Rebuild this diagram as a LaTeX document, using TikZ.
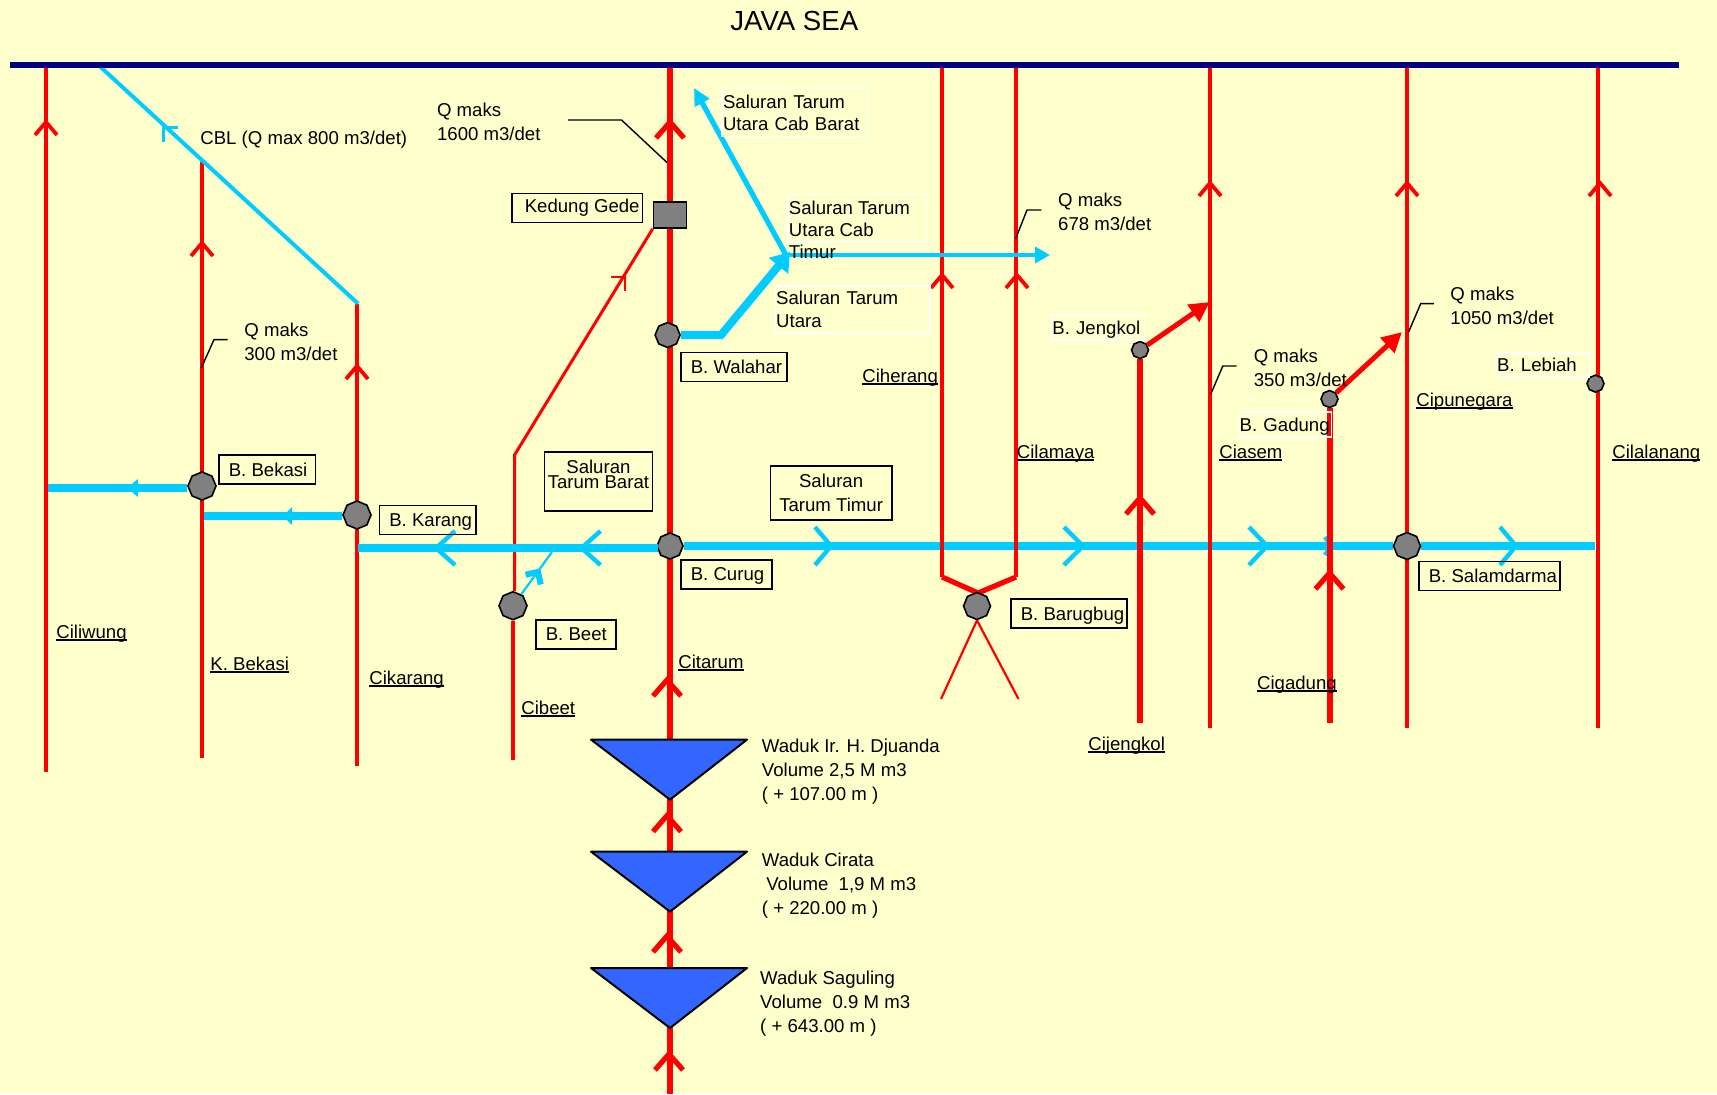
\documentclass[tikz,border=0pt]{standalone}
\usepackage{fontspec}
\setmainfont{Liberation Sans}
\usepackage{tikz}
\usetikzlibrary{backgrounds}
\usetikzlibrary{positioning, calc, arrows.meta, shapes.geometric}
\definecolor{mapback}{HTML}{FFFFCC}
\definecolor{seablue}{HTML}{000080}
\definecolor{riverred}{HTML}{FF0000}
\definecolor{canalblue}{HTML}{00CCFF}
\definecolor{damblue}{HTML}{3366FF}
\definecolor{weirgray}{HTML}{808080}
\newcommand{\rivername}[1]{\setbox0\hbox{#1}\rlap{\rule[-1.2pt]{\wd0}{0.9pt}}#1}
\tikzset{pics/chevron/.style 2 args={code={\path[pic actions] (-#1,-#2) -- (0,0) -- (-#1,#2);}}}
\tikzset{river/.style={draw=riverred, line width=2.2pt}}
\tikzset{canal/.style={draw=canalblue, line width=4pt}}
\tikzset{rivermark/.style={draw=riverred, line width=1.9pt, rotate=90}}
\tikzset{bigmark/.style={draw=riverred, line width=2.6pt, rotate=90}}
\tikzset{canalmark/.style={draw=canalblue, line width=2.2pt}}
\tikzset{weir/.style={regular polygon, regular polygon sides=8, shape border rotate=22.5, draw=black, fill=weirgray, line width=0.8pt, inner sep=0pt, minimum size=#1}}
\tikzset{weir/.default=14pt}
\tikzset{reservoir/.style={draw=black, fill=damblue, line width=1pt, line join=round}}
\tikzset{leader/.style={draw=black, line width=0.7pt}}
\tikzset{plain/.style={anchor=west, inner sep=0pt, align=left}}
\tikzset{oneline/.style={anchor=west, inner sep=0pt, text height=6.7pt, text depth=0pt}}
\tikzset{boxlabel/.style={draw=black, line width=0.8pt, anchor=west, inner xsep=1.5pt, inner ysep=0pt, minimum height=14.5pt, text height=6.7pt, text depth=0pt, execute at begin node={\hspace*{3.5pt}}, execute at end node={\hspace*{#1}}}}
\tikzset{boxlabel/.default=0pt}
\tikzset{whitelabel/.style={draw=white, line width=0.7pt, anchor=west, inner xsep=0.5pt, inner ysep=0pt, align=left, text width=#1}}
\tikzset{whiteline/.style={whitelabel=45.5pt, minimum height=12.5pt, text height=6.7pt, text depth=0pt}}

\begin{document}
\begin{tikzpicture}[x=0.5pt, y=-0.5pt, every node/.style={font=\fontsize{9.3}{12}\selectfont}]

      \useasboundingbox (0,0) rectangle (1717,1094);
      \begin{scope}[on background layer]
        \fill[mapback] (0,0) rectangle (1717,1094);
      \end{scope}

      % WEIRS

      \node[weir] (wBekasi) at (202,486) {};
      \node[weir] (wKarang) at (357,515) {};
      \node[weir=13pt] (wCurug) at (670,546) {};
      \node[weir=12.5pt] (wWalahar) at (667.6,335) {};
      \node[weir] (wBeet) at (513,605.7) {};
      \node[weir=13.5pt] (wBarugbug) at (977,606) {};
      \node[weir=8.5pt] (wJengkol) at (1140,350) {};
      \node[weir=8.5pt] (wGadung) at (1329.5,399) {};
      \node[weir=13.5pt] (wSalamdarma) at (1407,546) {};
      \node[weir=8.5pt] (wLebiah) at (1595.5,383.6) {};
      \node[draw=black, fill=weirgray, line width=0.8pt, minimum width=16.5pt, minimum height=13pt, inner sep=0pt] (kedungGede) at (670,215) {};

      % RIVERS (under the weirs)

      \coordinate (seaWest) at (10,64.6);
      \coordinate (seaEast) at (1679,64.6);
      \coordinate (timurEnd) at (1595,546);
      \coordinate (cibeetBend) at (514.5,455);
      \coordinate (cibeetEnd) at (513,760);
      \coordinate (jengkolEnd) at (1140,723);
      \coordinate (gadungEnd) at (1329.5,723);
      \coordinate (barugTop) at (978,593);
      \coordinate (barugLeft) at (941,699);
      \coordinate (barugRight) at (1018.5,699);

      \begin{scope}[on background layer]
        \draw[canal] (wCurug) -- (wSalamdarma);
        \draw[canal] (wSalamdarma) -- (timurEnd);
        \foreach \x/\back/\half in {831/16/19, 1083/19/19, 1267/18/19, 1331/6/9, 1516/16/19}
          \pic[canalmark] at (\x,546) {chevron={\back}{\half}};

        \foreach \name/\x/\ytop/\yend/\wid in {ciliwung/46/65/772/2.2, kBekasi/202/162/758/2.2, cikarang/357/303.6/766/2.2, citarum/670/65/1094/2.8, ciherang/942/65/577/2.2, cilamaya/1016/65/577/2.2, ciasem/1210/65/728/2, cipunegara/1407/65/728/2, cilalanang/1598/65/728/2} {
          \coordinate (\name Top) at (\x,\ytop);
          \coordinate (\name End) at (\x,\yend);
          \draw[river, line width=\wid pt] (\name End) -- (\name Top);
        }
        \foreach \x/\y in {46/122, 202/243, 357/366, 1210/183, 1407/183, 1600/183, 942/275, 1017/275}
          \pic[rivermark] at (\x,\y) {chevron={13}{11}};
        \foreach \x/\y in {670/122, 667/680, 667/815.6, 667/936, 669/1054, 1140/498, 1329.5/573}
          \pic[bigmark] at (\x,\y) {chevron={16}{14}};

        \draw[river, line width=3pt] (wJengkol) -- (jengkolEnd);
        \draw[river, line width=3pt] (wGadung) -- (gadungEnd);
        \draw[river, line width=1.5pt] (kedungGede.south west) -- (cibeetBend) -- (cibeetBend |- wBeet.north);
        \draw[river, line width=1.7pt] (wBeet) -- (cibeetEnd);
        \pic[draw=riverred, line width=1.2pt, rotate=45] at (625,277) {chevron={10}{10}};
        \draw[river, line width=2.6pt] (ciherangEnd) -- (barugTop) -- (cilamayaEnd);
        \draw[river, line width=1.1pt] (barugLeft) -- (wBarugbug.south) -- (barugRight);
      \end{scope}

      % CANALS

      \coordinate (cblEnd) at (98,64.6);
      \coordinate (cblStart) at (358,303.6);
      \coordinate (baratStart) at (658,548);
      \coordinate (baratEnd) at (358,548);
      \coordinate (bekasiOut) at (48,488);
      \coordinate (karangOut) at (204,516);
      \coordinate (walaharBend) at (721,335);
      \coordinate (tarumJunction) at (786,255);
      \coordinate (junctionTip) at (790,252);
      \coordinate (cabTimurEnd) at (1050,255);
      \coordinate (cabBaratEnd) at (694,88);
      \coordinate (beetEnd) at (552,552);

      \draw[canal, line width=2pt] (cblStart) -- (cblEnd);
      \pic[draw=canalblue, line width=1.5pt, rotate=135] at (163.5,127.5) {chevron={10}{10}};
      \draw[canal] (baratStart) -- (baratEnd);
      \foreach \x in {436, 581.5}
        \pic[canalmark, rotate=180] at (\x,548) {chevron={19}{17}};
      \draw[canal] (wBekasi.west |- bekasiOut) -- (bekasiOut);
      \pic[fill=canalblue, rotate=180] at (127,488) {chevron={11}{9}};
      \draw[canal, line width=3.8pt] (wKarang.west |- karangOut) -- (karangOut);
      \pic[fill=canalblue, rotate=180] at (283,516) {chevron={9}{9}};
      \draw[canal, line width=2.4pt, -{Triangle[length=7.5pt, width=8pt]}] (tarumJunction) -- (cabTimurEnd);
      \draw[canal, line width=2.6pt, -{Triangle[length=8.5pt, width=8pt]}] (tarumJunction) -- (cabBaratEnd);
      \draw[canal, line width=4pt, -{Triangle[length=9pt, width=12pt]}] (wWalahar) -- (walaharBend) -- (junctionTip);
      \draw[canal, line width=1.1pt] (wBeet) -- (beetEnd);
      \pic[draw=canalblue, line width=3pt, rotate=57] at (538,572) {chevron={9}{9}};

      % BRANCHES AND SEA

      \coordinate (jengkolIn) at (1209.7,302);
      \coordinate (gadungIn) at (1402,332);
      \draw[river, line width=2.5pt, -{Triangle[length=10pt, width=10pt]}] (wJengkol) -- (jengkolIn);
      \draw[river, line width=2.5pt, -{Triangle[length=10pt, width=10pt]}] (wGadung) -- (gadungIn);
      \draw[draw=seablue, line width=2.9pt] (seaWest) -- (seaEast);

      % RESERVOIRS

      \foreach \y in {739.6, 851.6, 968}
        \draw[reservoir] (591,\y) -- (747,\y) -- (670,\y+60) -- cycle;

      % LEADERS

      \foreach \xa/\xb/\xc/\ya/\yc in {568/621.5/667/120/162.5, 227.6/214/201.3/339.6/368, 1041.4/1027/1015.7/210/238.6, 1236.5/1222.8/1210.8/366/394, 1433.8/1420.7/1408.6/303.6/332}
        \draw[leader] (\xa,\ya) -- (\xb,\ya) -- (\xc,\yc);

      % LABELS

      \node[font=\fontsize{13.8}{15}\selectfont, anchor=west, inner sep=0pt] (seaLabel) at (730,21) {JAVA SEA};
      \node[oneline] (cblLabel) at (200,138) {CBL (Q max 800 m3/det)};
      \node[plain] (qTarum) at (436.7,122) {Q maks\\1600 m3/det};
      \node[plain] (qBekasi) at (244,341.6) {Q maks\\300 m3/det};
      \node[plain] (qCilamaya) at (1057.8,212) {Q maks\\678 m3/det};
      \node[plain] (qCiasem) at (1253.4,367.8) {Q maks\\350 m3/det};
      \node[plain] (qCipunegara) at (1450,306) {Q maks\\1050 m3/det};

      \node[boxlabel] (kedungLabel) at (511,208) {\hspace*{1.5pt}\raisebox{1pt}{Kedung Gede}};
      \node[boxlabel=2.5pt] (bekasiLabel) at (218,469.5) {B. Bekasi};
      \node[boxlabel=0.5pt] (karangLabel) at (378.5,519.8) {B. Karang};
      \node[boxlabel=1pt] (walaharLabel) at (680,366.8) {B. Walahar};
      \node[boxlabel=2.5pt] (curugLabel) at (680,574.7) {\raisebox{0.5pt}{B. Curug}};
      \node[boxlabel=3pt] (beetLabel) at (535,634.7) {\raisebox{0.5pt}{B. Beet}};
      \node[boxlabel] (barugbugLabel) at (1010,613.5) {B. Barugbug};
      \node[boxlabel] (salamdarmaLabel) at (1418,575.8) {B. Salamdarma};
      \node[draw=black, line width=0.8pt, inner sep=0pt, align=center, anchor=north west, minimum width=54pt, minimum height=29.5pt, font=\fontsize{9.3}{7.5}\selectfont] (baratLabel) at (543.6,451) {Saluran\\Tarum Barat\\\mbox{}};
      \node[draw=black, line width=0.8pt, inner sep=0pt, align=center, anchor=north west, minimum width=60.7pt, minimum height=27pt] (timurLabel) at (769.6,465.4) {Saluran\\Tarum Timur};

      \node[whitelabel=71.6pt, minimum height=24pt, font=\fontsize{9.3}{11}\selectfont] (cabBaratLabel) at (721.3,112.5) {Saluran Tarum\\Utara Cab Barat};
      \node[whitelabel=76.4pt, minimum height=23.5pt, font=\fontsize{9.3}{11.5}\selectfont] (utaraLabel) at (774.5,309.5) {Saluran Tarum\\Utara};
      \node[whiteline] (jengkolLabel) at (1050.7,327.5) {B. Jengkol};
      \node[whiteline] (gadungLabel) at (1238,424.3) {B. Gadung};
      \node[whiteline, minimum height=12pt] (lebiahLabel) at (1495.5,364.8) {B. Lebiah};
      \draw[draw=white, line width=0.7pt] (788,194.6) rectangle (926.7,241.8);
      \node[plain, font=\fontsize{9.3}{11}\selectfont] (cabTimurLabel) at (788.5,230) {Saluran Tarum\\Utara Cab\\Timur};

      % RIVER NAMES

      \node[oneline] (ciliwungName) at (56,632) {\rivername{Ciliwung}};
      \node[oneline] (kBekasiName) at (210,664) {\rivername{K. Bekasi}};
      \node[oneline] (cikarangName) at (369,678) {\rivername{Cikarang}};
      \node[oneline] (cibeetName) at (521,708) {\rivername{Cibeet}};
      \node[oneline] (citarumName) at (678,661.5) {\rivername{Citarum}};
      \node[oneline] (ciherangName) at (862,376) {\rivername{Ciherang}};
      \node[oneline] (cilamayaName) at (1016.5,452) {\rivername{Cilamaya}};
      \node[oneline] (ciasemName) at (1219,452) {\rivername{Ciasem}};
      \node[oneline] (cipunegaraName) at (1416,400) {\rivername{Cipunegara}};
      \node[oneline] (cilalanangName) at (1612,452) {\rivername{Cilalanang}};
      \node[oneline] (cijengkolName) at (1088,744) {\rivername{Cijengkol}};
      \node[oneline] (cigadungName) at (1256.7,683) {\rivername{Cigadung}};

      % RESERVOIR TEXT

      \node[plain] (djuandaText) at (761.5,771.9) {Waduk Ir. H. Djuanda\\Volume 2,5 M m3\\( + 107.00 m )};
      \node[plain] (cirataText) at (761.5,885.2) {Waduk Cirata\\\hspace*{2.2pt}Volume\ \ 1,9 M m3\\( + 220.00 m )};
      \node[plain] (sagulingText) at (759.8,1003.2) {Waduk Saguling\\Volume\ \ 0.9 M m3\\( + 643.00 m )};
\end{tikzpicture}
\end{document}
